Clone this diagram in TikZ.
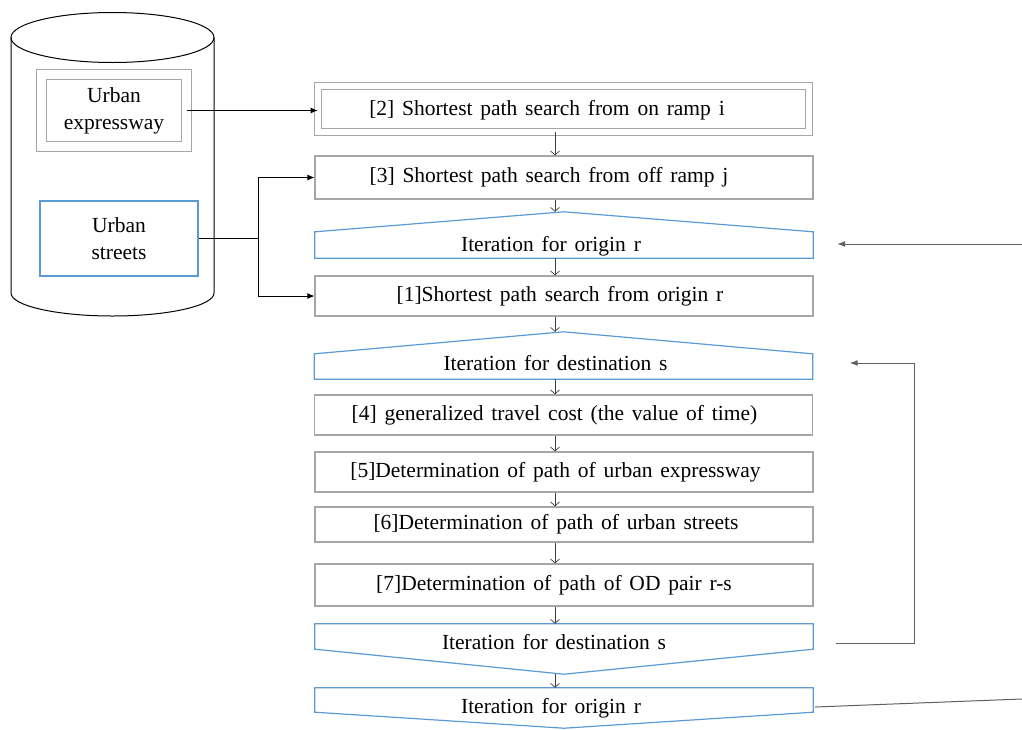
\documentclass[tikz,border=0pt]{standalone}
\usepackage{fontspec}
\setmainfont[WordSpace=1.45]{Liberation Serif}
\usetikzlibrary{arrows.meta}
\definecolor{gbox}{HTML}{A6A6A6}
\definecolor{bbox}{HTML}{5B9BD5}
\definecolor{conn}{HTML}{606060}
\definecolor{darr}{HTML}{404040}
\begin{document}
\begin{tikzpicture}[x=1pt,y=-1pt,
  font=\rmfamily\fontsize{21.5}{27}\selectfont,
  gb/.style={draw=gbox, line width=1.2pt, minimum width=498pt, inner sep=0pt},
  lp/.style={minimum width=498pt, inner sep=0pt},
  bl/.style={draw=bbox, line width=1.2pt},
  darrow/.style={draw=darr, line width=0.7pt, -{Straight Barb[length=4pt,width=9pt]}},
  carrow/.style={draw=black, line width=0.8pt, -{Latex[length=7pt,width=6pt]}},
  lconn/.style={draw=conn, line width=1pt},
  larrow/.style={lconn, -{Latex[length=8pt,width=6pt]}}]
\useasboundingbox (0,0) rectangle (1022,729);

% database cylinder
\draw[line width=1pt] (112.5,37.5) ellipse [x radius=101.5pt, y radius=25pt];
\draw[line width=1pt] (11,37.5) -- (11,293) arc[start angle=180, end angle=360, x radius=101.5pt, y radius=23pt] -- (214,37.5);

\node[draw=gbox, line width=1.2pt, double=white, double distance=9pt, minimum width=144.6pt, minimum height=71.6pt, inner sep=0pt, align=center] (exp) at (114,110.5) {Urban\\expressway};
\node[draw=bbox, line width=1.2pt, minimum width=158pt, minimum height=75pt, inner sep=0pt, align=center] (st) at (119,238.5) {Urban\\streets};

% main column
\node[draw=gbox, line width=1.2pt, double=white, double distance=6pt, minimum width=490.6pt, minimum height=45.6pt, inner sep=0pt,
  label={[xshift=-16.5pt,yshift=-1pt]center:{[2] Shortest path search from on ramp i}}] (b2) at (563.5,109) {};
\node[gb, minimum height=43pt, label={[xshift=-15pt]center:{[3] Shortest path search from off ramp j}}] (b3) at (564,177.5) {};
\node[lp, minimum height=26pt, label={[xshift=-13pt,yshift=-1pt]center:{Iteration for origin r}}] (io1) at (564,245) {};
\node[gb, minimum height=40pt, label={[xshift=-4pt]center:{[1]Shortest path search from origin r}}] (b1) at (564,296) {};
\node[lp, minimum height=25pt, label={[xshift=-8pt,yshift=3pt]center:{Iteration for destination s}}] (id1) at (563.5,366.5) {};
\node[gb, minimum height=40pt, label={[xshift=-9pt]center:{[4] generalized travel cost (the value of time)}}] (b4) at (563.5,415) {};
\node[gb, minimum height=40pt, label={[xshift=-8.5pt]center:{[5]Determination of path of urban expressway}}] (b5) at (564,472) {};
\node[gb, minimum height=35pt, label={[xshift=-8pt]center:{[6]Determination of path of urban streets}}] (b6) at (564,524.5) {};
\node[gb, minimum height=42pt, label={[xshift=-10pt]center:{[7]Determination of path of OD pair r-s}}] (b7) at (564,585) {};
\node[lp, minimum height=25pt, label={[xshift=-10pt,yshift=-6pt]center:{Iteration for destination s}}] (id2) at (564,636.5) {};
\node[lp, minimum height=24pt, label={[xshift=-13pt,yshift=-8pt]center:{Iteration for origin r}}] (io2) at (564,700) {};

\coordinate (io1t) at ([yshift=20pt]io1.north);
\coordinate (id1t) at ([yshift=22pt]id1.north);
\coordinate (id2b) at ([yshift=-25pt]id2.south);
\coordinate (io2b) at ([yshift=-16pt]io2.south);

\draw[bl] (io1.south west) -- (io1.north west) -- (io1t) -- (io1.north east) -- (io1.south east) -- cycle;
\draw[bl] (id1.south west) -- (id1.north west) -- (id1t) -- (id1.north east) -- (id1.south east) -- cycle;
\draw[bl] (id2.north west) -- (id2.south west) -- (id2b) -- (id2.south east) -- (id2.north east) -- cycle;
\draw[bl] (io2.north west) -- (io2.south west) -- (io2b) -- (io2.south east) -- (io2.north east) -- cycle;

% down arrows
\coordinate (ax) at (555,0);
\draw[darrow] (b2.south -| ax) -- (b3.north -| ax);
\draw[darrow] (b3.south -| ax) -- (io1t -| ax);
\draw[darrow] (io1.south -| ax) -- (b1.north -| ax);
\draw[darrow] (b1.south -| ax) -- (id1t -| ax);
\draw[darrow] (id1.south -| ax) -- (b4.north -| ax);
\draw[darrow] (b4.south -| ax) -- (b5.north -| ax);
\draw[darrow] (b5.south -| ax) -- (b6.north -| ax);
\draw[darrow] (b6.south -| ax) -- (b7.north -| ax);
\draw[darrow] (b7.south -| ax) -- (id2.north -| ax);
\draw[darrow] (id2b -| ax) -- (io2.north -| ax);

% inputs from database
\coordinate (sj) at (258,0);
\draw[carrow] (exp.east) -- (exp.east -| b2.west);
\draw[carrow] (st.east) -- (st.east -| sj) |- (b3.west);
\draw[carrow] (st.east -| sj) |- (b1.west);

% loop connectors
\coordinate (lx) at (914,363);
\coordinate (rt) at (1022,244);
\coordinate (rb) at (1022,699);
\draw[larrow] ([xshift=23pt,yshift=-6.5pt]id2.east) -| (lx) -- ([xshift=37pt,yshift=3.5pt]id1.east);
\draw[larrow] (rt) -- ([xshift=24pt,yshift=1pt]io1.east);
\draw[lconn] ([xshift=2pt,yshift=-7pt]io2.east) -- (rb);
\end{tikzpicture}
\end{document}
